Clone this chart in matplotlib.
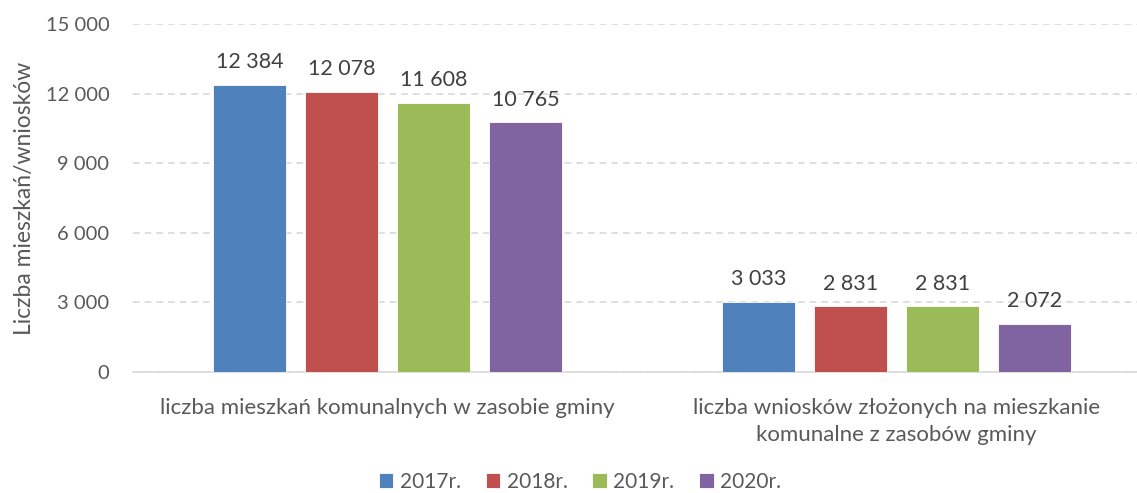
import matplotlib.pyplot as plt
import numpy as np
from matplotlib.ticker import FuncFormatter

plt.rcParams["font.family"] = ["Lato", "DejaVu Sans"]

categories = [
    "liczba mieszkań komunalnych w zasobie gminy",
    "liczba wniosków złożonych na mieszkanie\nkomunalne z zasobów gminy",
]
years = ["2017r.", "2018r.", "2019r.", "2020r."]
values = {
    "2017r.": [12384, 3033],
    "2018r.": [12078, 2831],
    "2019r.": [11608, 2831],
    "2020r.": [10765, 2072],
}
colors = ["#4F81BD", "#C0504D", "#9BBB59", "#8064A2"]
yticks = [0, 3000, 6000, 9000, 12000, 15000]

TEXT = "#595959"


def spaced(v, _pos=None):
    return f"{int(v):,}".replace(",", " ")


fig = plt.figure(figsize=(11.37, 4.93), dpi=100)
ax = fig.add_axes([133 / 1137, (493 - 372) / 493, 1 - 133 / 1137, 348 / 493])

x = np.arange(len(categories))
step = 92 / 509
width = 73 / 509
for i, (year, color) in enumerate(zip(years, colors)):
    pos = x + (i - 1.5) * step
    bars = ax.bar(pos, values[year], width=width, color=color, label=year,
                  edgecolor="white", linewidth=0.6, zorder=3)
    for b, v in zip(bars, values[year]):
        ax.annotate(spaced(v), (b.get_x() + b.get_width() / 2, v),
                    xytext=(0, 9), textcoords="offset points",
                    ha="center", va="bottom", fontsize=15.5, color="#404040")

ax.set_xlim(-0.5, (1137 - 387.5) / 509)
ax.set_ylim(0, 15000)
ax.set_yticks(yticks)
ax.yaxis.set_major_formatter(FuncFormatter(spaced))
ax.set_xticks(x)
ax.set_xticklabels(categories, fontsize=16, color=TEXT, linespacing=1.4)
ax.tick_params(axis="x", length=0, pad=19)
ax.tick_params(axis="y", length=0, pad=17, labelsize=14.5, labelcolor=TEXT)

ax.grid(axis="y", color="#D9D9D9", linestyle=(0, (4, 3)), linewidth=1.2, zorder=0)
for s in ["top", "right", "left"]:
    ax.spines[s].set_visible(False)
ax.spines["bottom"].set_color("#D9D9D9")
ax.spines["bottom"].set_linewidth(1.2)

ax.set_ylabel("Liczba mieszkań/wniosków", fontsize=16.5, color=TEXT, labelpad=8)

ax.legend(loc="lower center", bbox_to_anchor=(580 / 1137, -0.035), bbox_transform=fig.transFigure,
          ncol=4, frameon=False, fontsize=15, handlelength=0.7, handleheight=0.7,
          handletextpad=0.3, columnspacing=1.2, labelcolor=TEXT)

fig.savefig("out.png", dpi=100)
